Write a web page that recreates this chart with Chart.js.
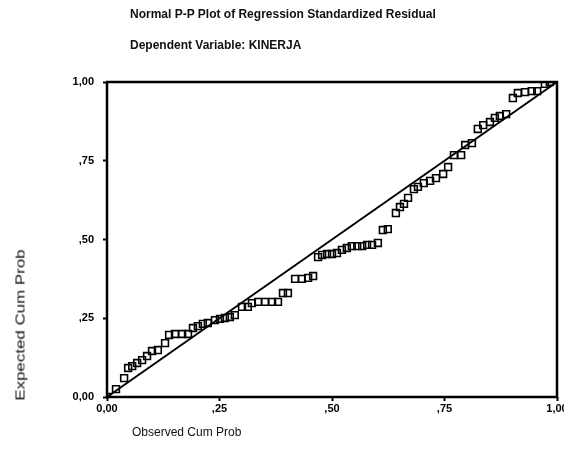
<!DOCTYPE html>
<html lang="id">
<head>
<meta charset="UTF-8">
<title>Normal P-P Plot of Regression Standardized Residual</title>
<script src="https://cdn.jsdelivr.net/npm/chart.js"></script>
<style>
  body { margin: 0; background: #fff; }
  .wrap { position: relative; width: 564px; height: 463px; overflow: hidden;
          font-family: "Liberation Sans", Arial, sans-serif; color: #111; }
  .wrap canvas { position: absolute; left: 0; top: 0; }
  .txt { position: absolute; white-space: nowrap; font-size: 12px; font-weight: bold; }
  #title { left: 130px; top: 7px; }
  #subtitle { left: 130px; top: 38px; }
  #xtitle { left: 132px; top: 425px; font-size: 12px; font-weight: normal; }
  #ytitle { left: 20px; top: 325px; font-size: 13px; font-weight: normal;
            transform: translate(-50%, -50%) rotate(-90deg) scaleX(1.3); }
</style>
<script>
// observed cumulative probability (x) and expected cumulative probability (y)
var observedCum = [
  0.000, 0.020, 0.038, 0.047, 0.056, 0.067, 0.078, 0.089, 0.100, 0.113,
  0.129, 0.138, 0.151, 0.167, 0.180, 0.191, 0.202, 0.213, 0.224, 0.240,
  0.251, 0.262, 0.273, 0.284, 0.300, 0.313, 0.322, 0.336, 0.351, 0.367,
  0.380, 0.391, 0.402, 0.418, 0.433, 0.447, 0.458, 0.469, 0.478, 0.489,
  0.500, 0.511, 0.522, 0.533, 0.544, 0.556, 0.567, 0.578, 0.589, 0.602,
  0.613, 0.624, 0.642, 0.651, 0.660, 0.669, 0.682, 0.691, 0.704, 0.718,
  0.731, 0.747, 0.758, 0.771, 0.787, 0.796, 0.811, 0.824, 0.836, 0.851,
  0.862, 0.873, 0.887, 0.902, 0.913, 0.929, 0.944, 0.956, 0.973, 0.984
];
var expectedCum = [
  0.000, 0.025, 0.060, 0.092, 0.098, 0.108, 0.117, 0.130, 0.146, 0.149,
  0.171, 0.197, 0.200, 0.200, 0.200, 0.219, 0.225, 0.232, 0.235, 0.244,
  0.248, 0.251, 0.254, 0.260, 0.286, 0.286, 0.298, 0.302, 0.302, 0.302,
  0.302, 0.330, 0.330, 0.375, 0.375, 0.378, 0.384, 0.444, 0.451, 0.454,
  0.454, 0.457, 0.467, 0.473, 0.479, 0.479, 0.479, 0.483, 0.483, 0.489,
  0.530, 0.533, 0.584, 0.603, 0.613, 0.632, 0.660, 0.667, 0.679, 0.686,
  0.695, 0.708, 0.730, 0.768, 0.768, 0.800, 0.806, 0.851, 0.863, 0.873,
  0.886, 0.892, 0.898, 0.949, 0.965, 0.968, 0.971, 0.971, 0.994, 1.000
];
// reference diagonal
var diagX = [0, 1];
var diagY = [0, 1];
// axis ticks
var tickValues = [0, 0.25, 0.5, 0.75, 1];
var tickLabels = ["0,00", ",25", ",50", ",75", "1,00"];
</script>
</head>
<body>
<div class="wrap">
  <canvas id="chart" width="564" height="463"></canvas>
  <div class="txt" id="title">Normal P-P Plot of Regression Standardized Residual</div>
  <div class="txt" id="subtitle">Dependent Variable: KINERJA</div>
  <div class="txt" id="ytitle">Expected Cum Prob</div>
  <div class="txt" id="xtitle">Observed Cum Prob</div>
</div>
<script>
  var tickFont = { family: "'Liberation Sans', Arial, sans-serif", size: 11, weight: "bold" };

  function labelFor(v) {
    var i = tickValues.indexOf(v);
    return i >= 0 ? tickLabels[i] : "";
  }

  // frame round the plot area
  var framePlugin = {
    id: "frame",
    afterDraw: function (chart) {
      var a = chart.chartArea, ctx = chart.ctx;
      ctx.save();
      ctx.strokeStyle = "#000";
      ctx.lineWidth = 2.5;
      ctx.strokeRect(a.left, a.top, a.right - a.left, a.bottom - a.top);
      ctx.restore();
    }
  };

  var points = observedCum.map(function (x, i) { return { x: x, y: expectedCum[i] }; });
  var diag = diagX.map(function (x, i) { return { x: x, y: diagY[i] }; });

  new Chart(document.getElementById("chart"), {
    type: "scatter",
    data: {
      datasets: [
        {
          type: "line",
          data: diag,
          borderColor: "#000",
          borderWidth: 2,
          pointRadius: 0,
          fill: false,
          clip: false
        },
        {
          data: points,
          pointStyle: "rect",
          pointRadius: 4.8,
          pointBorderWidth: 1.6,
          borderColor: "#000",
          backgroundColor: "rgba(0,0,0,0)"
        }
      ]
    },
    options: {
      responsive: false,
      animation: false,
      layout: { padding: { top: 82, right: 7, left: 0, bottom: 0 } },
      plugins: { legend: { display: false }, tooltip: { enabled: false } },
      scales: {
        x: {
          type: "linear", min: 0, max: 1,
          afterBuildTicks: function (s) { s.ticks = tickValues.map(function (v) { return { value: v }; }); },
          afterFit: function (s) { s.height = 66; s.paddingLeft = 0; s.paddingRight = 0; },
          ticks: { callback: labelFor, font: tickFont, color: "#000", padding: 1, autoSkip: false, maxRotation: 0 },
          grid: { drawOnChartArea: false, tickLength: 4, tickWidth: 2, tickColor: "#000" },
          border: { display: false }
        },
        y: {
          type: "linear", min: 0, max: 1,
          afterBuildTicks: function (s) { s.ticks = tickValues.map(function (v) { return { value: v }; }); },
          afterFit: function (s) { s.width = 107; s.paddingTop = 0; s.paddingBottom = 0; },
          ticks: { callback: labelFor, font: tickFont, color: "#000", padding: 9, autoSkip: false },
          grid: { drawOnChartArea: false, tickLength: 4, tickWidth: 2, tickColor: "#000" },
          border: { display: false }
        }
      }
    },
    plugins: [framePlugin]
  });
</script>
</body>
</html>
